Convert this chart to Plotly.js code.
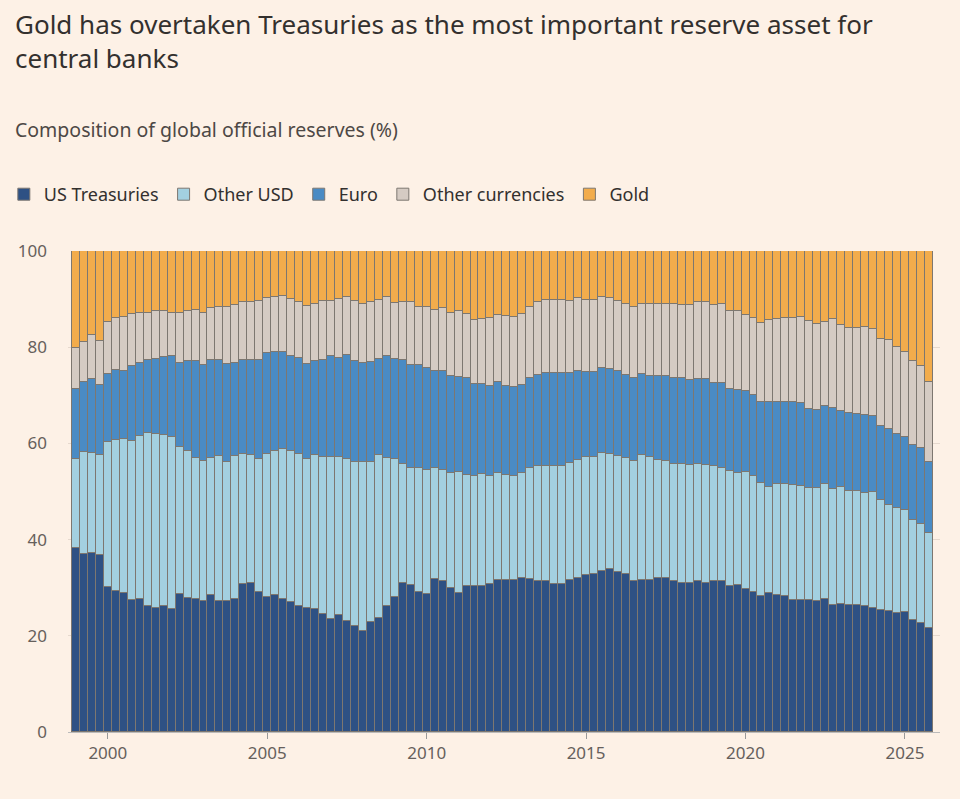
<!DOCTYPE html>
<html>
<head>
<meta charset="utf-8">
<script src="https://cdn.plot.ly/plotly-3.0.1.min.js"></script>
<style>
  body { margin: 0; background: #fdf1e6; }
  #chart { width: 960px; height: 799px; }
</style>
</head>
<body>
<div id="chart"></div>
<script>
// tops of each band (% cumulative), one value per quarter from 1999 Q1
var ustTop = [38.2,37.1,37.3,36.7,30.1,29.4,28.8,27.4,27.7,26.3,25.8,26.3,25.6,28.6,27.8,27.6,27.2,28.4,27.3,27.2,27.6,30.8,31.0,29.2,28.1,28.5,27.7,27.0,26.1,25.8,25.5,24.6,23.4,24.4,23.1,22.0,21.0,22.9,23.8,26.3,28.0,31.0,30.5,29.2,28.7,31.9,31.3,30.0,28.8,30.3,30.4,30.4,30.7,31.7,31.7,31.7,32.1,31.8,31.3,31.3,30.8,30.8,31.7,32.1,32.6,32.8,33.5,33.8,33.3,32.8,31.4,31.7,31.7,32.0,32.1,31.3,31.0,31.0,31.4,31.0,31.3,31.4,30.3,30.5,29.7,29.2,28.3,28.8,28.4,28.3,27.5,27.5,27.4,27.2,27.7,26.5,26.7,26.4,26.4,26.1,25.8,25.4,25.2,24.7,24.9,23.3,22.7,21.6];
var otherUsdTop = [56.8,58.3,58.1,57.6,60.3,60.7,60.9,60.6,61.6,62.2,61.9,61.8,61.4,59.2,58.4,56.9,56.3,56.9,57.3,56.1,57.4,57.8,57.6,56.7,57.9,58.4,58.8,58.4,57.9,56.8,57.5,57.1,57.2,57.1,56.7,56.2,56.1,56.1,57.5,56.9,56.8,55.7,54.8,54.9,54.5,54.8,54.4,53.9,54.1,53.5,53.3,53.6,53.2,53.8,53.4,53.3,53.8,54.8,55.2,55.4,55.2,55.2,55.9,56.5,57.2,57.2,58.0,57.9,57.3,56.9,56.3,57.6,57.2,56.5,56.3,55.8,55.8,55.6,55.8,55.5,55.3,54.8,54.3,53.8,54.0,53.3,51.8,50.9,51.5,51.5,51.4,51.2,50.7,50.8,51.6,50.5,50.9,50.2,50.1,49.6,49.8,48.2,47.2,46.6,46.1,44.0,43.3,41.3];
var euroTop = [71.3,72.7,73.3,72.1,74.4,75.2,75.1,76.0,76.7,77.3,77.6,77.9,78.1,76.7,77.1,77.1,76.2,77.3,77.4,76.6,76.7,77.3,77.3,77.3,78.8,79.1,79.1,78.2,77.7,76.6,77.2,77.4,78.1,77.8,78.3,77.1,76.8,77.0,77.5,78.1,77.5,77.3,76.4,76.2,75.6,75.0,75.0,74.0,73.9,73.5,72.3,72.3,71.9,72.8,71.9,71.8,72.2,73.5,74.2,74.7,74.6,74.6,74.7,75.0,74.9,74.9,75.6,75.5,75.1,74.3,73.7,74.4,74.1,74.0,74.0,73.7,73.7,73.1,73.4,73.4,72.6,72.6,71.4,71.2,70.9,70.1,68.7,68.6,68.6,68.6,68.6,68.4,67.2,67.0,67.7,67.4,66.8,66.3,66.2,65.9,65.6,63.7,63.0,61.9,61.3,59.7,59.0,56.1];
var otherTop = [79.9,81.0,82.5,81.2,85.2,86.0,86.3,87.0,87.2,87.2,87.5,87.5,87.2,87.2,87.6,87.7,87.2,88.1,88.4,88.4,88.7,89.3,89.5,89.6,90.3,90.5,90.6,90.0,89.3,88.6,89.0,89.6,89.7,90.1,90.5,89.7,88.9,89.4,89.9,90.5,89.1,89.3,89.3,88.4,88.3,87.7,88.1,87.2,87.5,87.0,85.6,85.8,86.0,86.6,86.5,86.2,86.8,88.4,89.3,89.8,89.8,89.9,89.7,90.2,89.9,89.9,90.4,90.2,89.7,89.0,88.4,88.9,88.9,88.9,88.9,89.0,88.8,88.8,89.4,89.4,88.8,88.9,87.5,87.6,86.7,86.1,85.0,85.6,85.9,86.0,86.1,86.2,85.4,84.9,85.3,85.8,84.7,84.0,84.0,84.3,83.7,81.8,81.5,80.0,78.9,77.1,76.1,72.7];

var seriesNames = ['US Treasuries', 'Other USD', 'Euro', 'Other currencies', 'Gold'];
var colors = ['#2e5184', '#a3d0e0', '#4a8bc4', '#d5cbc3', '#f2ac4c'];
var yearTicks = [2000, 2005, 2010, 2015, 2020, 2025];

var quarters = ustTop.map((v, i) => 1999 + i * 0.25);

// shares of each band from the cumulative tops
var bands = [
  ustTop,
  ustTop.map((v, i) => otherUsdTop[i] - v),
  otherUsdTop.map((v, i) => euroTop[i] - v),
  euroTop.map((v, i) => otherTop[i] - v),
  otherTop.map(v => 100 - v)
];

var plotData = bands.map((vals, k) => ({
  type: 'bar',
  x: quarters,
  y: vals,
  name: seriesNames[k],
  width: 0.25,
  marker: { color: colors[k], line: { color: '#7d7770', width: 1 } },
  hoverinfo: 'x+y+name'
}));

var layout = {
  width: 960,
  height: 799,
  barmode: 'stack',
  bargap: 0,
  paper_bgcolor: '#fdf1e6',
  plot_bgcolor: '#fdf1e6',
  font: { family: 'Noto Sans, sans-serif', color: '#33302e' },
  margin: { l: 68, r: 20, t: 251, b: 67 },
  showlegend: true,
  legend: {
    orientation: 'h',
    xref: 'container', yref: 'container',
    x: 0.004, y: 1 - 176 / 799,
    xanchor: 'left', yanchor: 'top',
    font: { size: 18, color: '#33302e' },
    traceorder: 'normal',
    itemwidth: 30
  },
  xaxis: {
    range: [1998.75, 2026.1],
    tickvals: yearTicks,
    ticktext: yearTicks.map(String),
    ticks: 'outside',
    ticklen: 6,
    tickcolor: '#999',
    showgrid: false,
    zeroline: false,
    showline: true,
    linecolor: '#bbb',
    tickfont: { size: 17, color: '#66605c' }
  },
  yaxis: {
    range: [0, 100],
    dtick: 20,
    showgrid: true,
    gridcolor: '#e6d9ce',
    zeroline: false,
    ticks: '',
    ticklabelstandoff: 20,
    tickfont: { size: 17, color: '#66605c' }
  },
  annotations: [
    {
      xref: 'paper', yref: 'paper',
      x: -55 / 872, y: 1 + 247 / 481,
      xanchor: 'left', yanchor: 'top', align: 'left',
      showarrow: false,
      text: 'Gold has overtaken Treasuries as the most important reserve asset for<br>central banks',
      font: { size: 26, color: '#33302e' }
    },
    {
      xref: 'paper', yref: 'paper',
      x: -55 / 872, y: 1 + 137 / 481,
      xanchor: 'left', yanchor: 'top', align: 'left',
      showarrow: false,
      text: 'Composition of global official reserves (%)',
      font: { size: 19.5, color: '#4d4845' }
    }
  ]
};

Plotly.newPlot('chart', plotData, layout, { displayModeBar: false });
</script>
</body>
</html>
